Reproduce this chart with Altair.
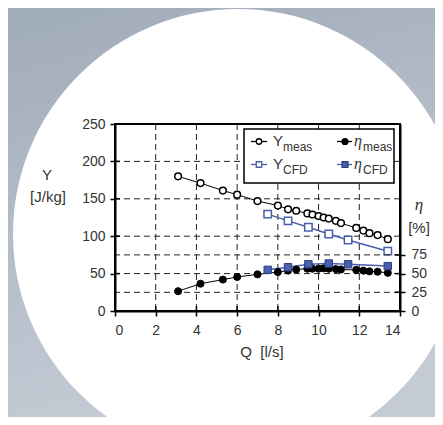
import altair as alt
import pandas as pd

# ---- data ----
q_meas = [3.1, 4.2, 5.3, 6.0, 7.0, 8.0, 8.5, 8.9, 9.45, 9.7, 10.0, 10.25, 10.5, 10.85, 11.1, 11.85, 12.2, 12.5, 12.9, 13.4]
y_meas = [180, 171, 161, 155.5, 147, 141, 136, 134, 130.5, 129, 127, 125, 123.5, 120.5, 117.5, 111, 107.5, 104, 101.5, 96]
eta_meas = [26.5, 36.5, 42, 45.5, 49, 52, 54, 55.5, 56.5, 56.5, 56.5, 57, 56.5, 56, 55.5, 55, 54, 53, 52.5, 51]
q_cfd = [7.5, 8.5, 9.5, 10.5, 11.45, 13.4]
y_cfd = [129.5, 120.5, 112, 103, 95, 80]
eta_cfd = [55, 58.5, 62.5, 63.5, 62.5, 60]

y_ticks = [0, 50, 100, 150, 200, 250]
eta_ticks = [0, 25, 50, 75]
q_ticks = [0, 2, 4, 6, 8, 10, 12, 14]
y_grid = [50, 100, 150, 200]
eta_grid = [25, 75]
q_grid = [2, 4, 6, 8, 10, 12]

W, H = 285, 187
FONT = "Liberation Sans"
TXT = "#333333"
BLUE = "#4a5fae"
DASH = [6, 4]

xscale = alt.Scale(domain=[0, 14], nice=False, zero=False)
yscale = alt.Scale(domain=[0, 250], nice=False)
escale = alt.Scale(domain=[0, 250], nice=False)

common_axis = dict(grid=False, domainColor="black", domainWidth=2, tickColor="black",
                   tickWidth=1.5, tickSize=5, labelFont=FONT, labelFontSize=14,
                   labelColor=TXT, title=None, zindex=1)
x_axis = alt.Axis(values=q_ticks, orient="bottom", labelPadding=7, **common_axis)
y_axis = alt.Axis(values=y_ticks, orient="left", labelPadding=5, **common_axis)
e_axis = alt.Axis(values=eta_ticks, orient="right", labelPadding=6, **common_axis)


def X(field):
    return alt.X(f"{field}:Q", scale=xscale, axis=x_axis)


def Y(field):
    return alt.Y(f"{field}:Q", scale=yscale, axis=y_axis)


def E(field):
    return alt.Y(f"{field}:Q", scale=escale, axis=e_axis)


one = pd.DataFrame({"a": [0]})

# ---- background (slide) ----
bg = alt.Chart(one).mark_rect(
    fill=alt.LinearGradient(gradient="linear", x1=0, y1=0, x2=0.3, y2=1,
                            stops=[alt.GradientStop(color="#a0abb9", offset=0),
                                   alt.GradientStop(color="#c5cbd5", offset=1)])
).encode(x=alt.value(-107), x2=alt.value(320), y=alt.value(-116), y2=alt.value(293))

circle = alt.Chart(one).mark_arc(color="white", radius=225, theta=0, theta2=6.2832).encode(
    x=alt.value(123), y=alt.value(110))

# ---- grids ----
grid_y = alt.Chart(pd.DataFrame({"v": y_grid})).mark_rule(
    color="#222", strokeWidth=1, strokeDash=DASH).encode(y=Y("v"))
grid_x = alt.Chart(pd.DataFrame({"v": q_grid})).mark_rule(
    color="#222", strokeWidth=1, strokeDash=DASH).encode(x=X("v"))
grid_e = alt.Chart(pd.DataFrame({"v": eta_grid})).mark_rule(
    color="#222", strokeWidth=1, strokeDash=DASH).encode(y=E("v"))

# inner halves of the crossing ticks
tick_y_in = alt.Chart(pd.DataFrame({"v": y_ticks})).mark_rule(color="black", strokeWidth=1.5).encode(
    y=Y("v"), x=alt.value(0), x2=alt.value(5))
tick_x_in = alt.Chart(pd.DataFrame({"v": q_ticks})).mark_rule(color="black", strokeWidth=1.5).encode(
    x=X("v"), y=alt.value(H - 5), y2=alt.value(H))
tick_e_in = alt.Chart(pd.DataFrame({"v": eta_ticks})).mark_rule(color="black", strokeWidth=1.5).encode(
    y=E("v"), x=alt.value(W - 5), x2=alt.value(W))

# ---- series ----
df_ym = pd.DataFrame({"q": q_meas, "v": y_meas})
df_em = pd.DataFrame({"q": q_meas, "v": eta_meas})
df_yc = pd.DataFrame({"q": q_cfd, "v": y_cfd})
df_ec = pd.DataFrame({"q": q_cfd, "v": eta_cfd})

ym_line = alt.Chart(df_ym).mark_line(color="black", strokeWidth=1).encode(x=X("q"), y=Y("v"))
ym_pts = alt.Chart(df_ym).mark_point(shape="circle", size=45, filled=True, fill="white",
                                     stroke="black", strokeWidth=1.5, opacity=1).encode(x=X("q"), y=Y("v"))
yc_line = alt.Chart(df_yc).mark_line(color=BLUE, strokeWidth=1.5).encode(x=X("q"), y=Y("v"))
yc_pts = alt.Chart(df_yc).mark_point(shape="square", size=55, filled=True, fill="white",
                                     stroke=BLUE, strokeWidth=1.5, opacity=1).encode(x=X("q"), y=Y("v"))

em_line = alt.Chart(df_em).mark_line(color="black", strokeWidth=1).encode(x=X("q"), y=E("v"))
em_pts = alt.Chart(df_em).mark_point(shape="circle", size=50, filled=True, fill="black",
                                     stroke="black", strokeWidth=1, opacity=1).encode(x=X("q"), y=E("v"))
ec_line = alt.Chart(df_ec).mark_line(color=BLUE, strokeWidth=1.5).encode(x=X("q"), y=E("v"))
ec_pts = alt.Chart(df_ec).mark_point(shape="square", size=55, filled=True, fill=BLUE,
                                     stroke="#2d3f85", strokeWidth=1, opacity=1).encode(x=X("q"), y=E("v"))

left_group = alt.layer(bg, circle, grid_y, grid_x, tick_y_in, tick_x_in,
                       ym_line, yc_line, ym_pts, yc_pts)
right_group = alt.layer(grid_e, tick_e_in, em_line, ec_line, em_pts, ec_pts)


# ---- legend and titles (decoration) ----
def txt(s, x, y, size=14, align="center", family=FONT, style="normal"):
    return alt.Chart(one).mark_text(text=s, align=align, baseline="middle", fontSize=size,
                                    font=family, fontStyle=style, color=TXT).encode(
        x=alt.value(x), y=alt.value(y))


def seg(x1, x2, y, color):
    return alt.Chart(one).mark_rule(color=color, strokeWidth=1.3).encode(
        x=alt.value(x1), x2=alt.value(x2), y=alt.value(y))


def sym(x, y, shape, fill, stroke, size=40):
    return alt.Chart(one).mark_point(shape=shape, size=size, filled=True, fill=fill,
                                     stroke=stroke, strokeWidth=1.3, opacity=1).encode(
        x=alt.value(x), y=alt.value(y))


frame = alt.Chart(one).mark_rect(fillOpacity=0, stroke="black", strokeWidth=2).encode(
    x=alt.value(0), x2=alt.value(W), y=alt.value(0), y2=alt.value(H))
leg_box = alt.Chart(one).mark_rect(fill="white", stroke="black", strokeWidth=1.5).encode(
    x=alt.value(129), x2=alt.value(279), y=alt.value(5), y2=alt.value(59))

r1, r2 = 17.5, 40.5
legend_group = alt.layer(
    frame, leg_box,
    seg(136, 152, r1, "black"), sym(144, r1, "circle", "white", "black", 30),
    txt("Y", 158, r1 - 1, 15, "left"), txt("meas", 168, r1 + 5, 12, "left"),
    seg(136, 152, r2, BLUE), sym(144, r2, "square", "white", BLUE, 30),
    txt("Y", 158, r2 - 1, 15, "left"), txt("CFD", 168, r2 + 5, 12, "left"),
    seg(222, 237, r1, "black"), sym(230, r1, "circle", "black", "black", 35),
    txt("η", 239, r1 - 1, 16, "left", "Liberation Serif", "italic"), txt("meas", 248, r1 + 5, 12, "left"),
    seg(222, 237, r2, BLUE), sym(230, r2, "square", BLUE, "#2d3f85", 35),
    txt("η", 239, r2 - 1, 16, "left", "Liberation Serif", "italic"), txt("CFD", 248, r2 + 5, 12, "left"),
    txt("Y", -68, 51, 15), txt("[J/kg]", -67, 73, 15),
    txt("η", 304, 81, 17, "center", "Liberation Serif", "italic"), txt("[%]", 304, 104, 15),
    txt("Q\u00a0\u00a0[l/s]", 147, 228, 15),
)

chart = alt.layer(left_group, right_group, legend_group).resolve_scale(y="independent").properties(
    width=W, height=H,
    autosize=alt.AutoSizeParams(type="none"),
    padding={"left": 107, "top": 116, "right": 35, "bottom": 106},
).configure_view(stroke=None)

chart.save("out.html", embed_options={"renderer": "svg", "actions": False})
